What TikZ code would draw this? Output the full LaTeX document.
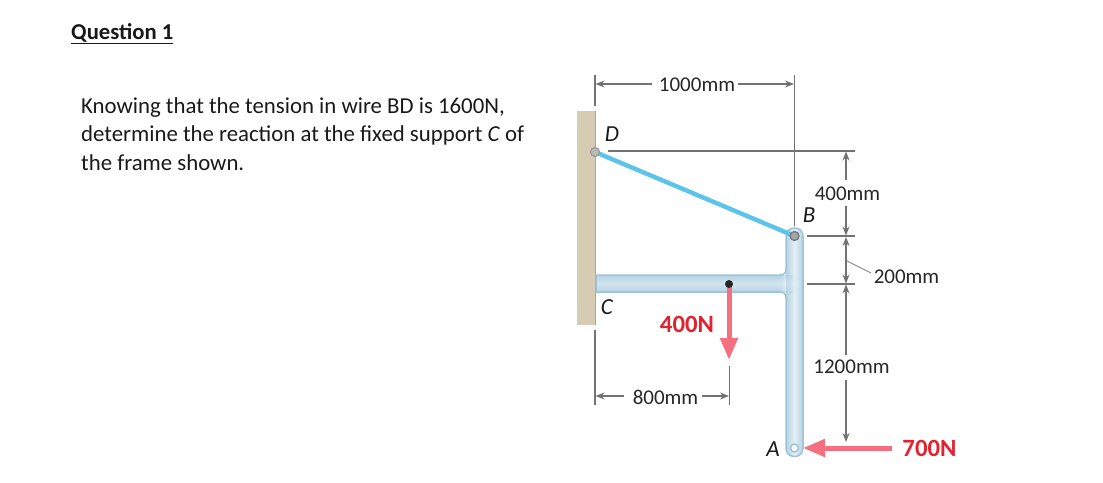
\documentclass[tikz,border=0pt]{standalone}
\usepackage{fontspec}
\setmainfont{Carlito}
\usetikzlibrary{arrows.meta,fadings}
\definecolor{dimgray}{HTML}{727272}
\definecolor{frameedge}{HTML}{9CC3D8}
\definecolor{framefill}{HTML}{D3E5EF}
\definecolor{framedark}{HTML}{B4D2E2}
\definecolor{wire}{HTML}{5CC3EA}
\definecolor{forcecol}{HTML}{F46F80}
\definecolor{forcetext}{HTML}{E3222F}
\definecolor{wallfill}{HTML}{D6CBB3}
\definecolor{walledge}{HTML}{B3A582}
\tikzfading[name=junctionfade,left color=transparent!0,right color=transparent!100]
\tikzset{
  dimline/.style={draw=dimgray,line width=1.2pt},
  dimarrow/.style={dimline,-{Stealth[length=9pt,width=7pt]}},
  dimtext/.style={font=\fontsize{21}{21}\selectfont,text=black!85,inner sep=1pt},
  para/.style={font=\fontsize{22.8}{22.8}\selectfont,text=black!90,anchor=base west,inner sep=0pt},
  pointlabel/.style={font=\fontsize{23}{23}\selectfont\itshape,text=black!90,inner sep=0pt},
  forcelabel/.style={font=\fontsize{24.8}{24.8}\selectfont\bfseries,text=forcetext,inner sep=0pt},
  forcearrow/.style={draw=forcecol,line width=5pt,-{Triangle[length=22pt,width=17pt]}},
  pin/.style={circle,draw=gray!90!black,fill=gray!70,line width=1.2pt,minimum size=9pt,inner sep=0pt}
}
\def\framepath{(596,275) -- (780,275) .. controls (784,275) and (786,273) .. (786,269)
  -- (786,236.5) .. controls (786,231) and (789.5,228) .. (794.5,228)
  .. controls (799.5,228) and (803,231) .. (803,236.5)
  -- (803,448) .. controls (803,453) and (799.5,456.5) .. (794.5,456.5)
  .. controls (789.5,456.5) and (786,453) .. (786,448)
  -- (786,298) .. controls (786,294) and (784,292) .. (780,292) -- (596,292) -- cycle}
\begin{document}
\begin{tikzpicture}[x=1pt,y=-1pt]
\useasboundingbox (0,0) rectangle (1103,482);
% text
\node[para,font=\fontsize{22.7}{22.7}\selectfont\bfseries] (title) at (71,39) {\underline{Question 1}};
\node[para] (l1) at (81,113) {Knowing that the tension in wire BD is 1600N,};
\node[para] (l2) at (81,141) {determine the reaction at the fixed support \textit{C} of};
\node[para] (l3) at (81,170) {the frame shown.};
% wall
\fill[wallfill] (577,111) rectangle (595,325);
\draw[walledge,line width=1.6pt] (595.3,111) -- (595.3,325);
% coordinates
\coordinate (D) at (595,152);
\coordinate (B) at (794.5,236);
\coordinate (A) at (794.5,448);
\coordinate (G) at (729,284);
% frame
\begin{scope}
\clip \framepath;
\shade[left color=framedark,right color=framedark,middle color=framefill!60!white] (786,225) rectangle (803,460);
\shade[top color=framedark,bottom color=framedark,middle color=framefill] (590,275) rectangle (780,292);
\shade[path fading=junctionfade,fading transform={yshift=0pt},top color=framedark,bottom color=framedark,middle color=framefill] (780,275) rectangle (796,292);
\end{scope}
\draw[frameedge,line width=1.5pt] \framepath;
% wire
\draw[wire,line width=4.4pt] (D) -- (B);
% pins
\node[pin,fill=gray!55,draw=gray!80] (pinD) at (D) {};
\node[pin] (pinB) at (B) {};
\node[circle,draw=frameedge,fill=white,line width=1.5pt,minimum size=8pt,inner sep=0pt] (pinA) at (A) {};
% forces
\coordinate (tip400) at (729,360);
\coordinate (tail700) at (892,448);
\coordinate (tip700) at (803,448);
\draw[forcearrow] (G) -- (tip400);
\node[circle,fill=black!85,minimum size=8pt,inner sep=0pt] (dot) at (G) {};
\node[forcelabel] (f400) at (687,324) {400N};
% dimension 1000
\coordinate (e1a) at (595,75); \coordinate (e1b) at (595,106);
\coordinate (e2a) at (794.5,75); \coordinate (e2b) at (794.5,226);
\draw[dimline] (e1a) -- (e1b);
\draw[dimline] (e2a) -- (e2b);
\node[dimtext] (d1000) at (697,85) {1000mm};
\coordinate (a1) at (595.5,84); \coordinate (a2) at (794,84);
\coordinate (s1) at (652,84); \coordinate (s2) at (738,84);
\draw[dimarrow] (s1) -- (a1);
\draw[dimarrow] (s2) -- (a2);
% horizontal ext lines
\coordinate (h1a) at (608,151); \coordinate (h1b) at (855,151);
\coordinate (h2a) at (807,236); \coordinate (h2b) at (855,236);
\coordinate (h3a) at (807,284); \coordinate (h3b) at (855,284);
\draw[dimline] (h1a) -- (h1b);
\draw[dimline] (h2a) -- (h2b);
\draw[dimline] (h3a) -- (h3b);
% vertical dims
\node[dimtext] (d400) at (847.5,194) {400mm};
\coordinate (v1) at (846,151.5); \coordinate (v2) at (846,235.5);
\coordinate (v3) at (846,237); \coordinate (v4) at (846,283.5);
\coordinate (v5) at (846,284.5); \coordinate (v6) at (846,442);
\coordinate (s4a) at (846,180); \coordinate (s4b) at (846,206);
\coordinate (mid) at (846,260);
\draw[dimarrow] (s4a) -- (v1);
\draw[dimarrow] (s4b) -- (v2);
\draw[dimarrow] (mid) -- (v3);
\draw[dimarrow] (mid) -- (v4);
\node[dimtext] (d200) at (906.5,277) {200mm};
\coordinate (lead) at (847,261);
\draw[dimline,draw=dimgray!80,line width=1pt] (lead) -- (871,273);
\node[dimtext] (d1200) at (851.5,367) {1200mm};
\coordinate (s12a) at (846,355); \coordinate (s12b) at (846,380);
\draw[dimarrow] (s12a) -- (v5);
\draw[dimarrow] (s12b) -- (v6);
% dimension 800
\coordinate (e3a) at (595,330); \coordinate (e3b) at (595,405);
\coordinate (e4a) at (729.5,366); \coordinate (e4b) at (729.5,405);
\draw[dimline] (e3a) -- (e3b);
\draw[dimline] (e4a) -- (e4b);
\node[dimtext] (d800) at (665.5,397) {800mm};
\coordinate (a3) at (595.5,396); \coordinate (a4) at (729,396);
\coordinate (s3) at (624,396); \coordinate (s5) at (702,396);
\draw[dimarrow] (s3) -- (a3);
\draw[dimarrow] (s5) -- (a4);
% 700N arrow
\draw[forcearrow] (tail700) -- (tip700);
\node[forcelabel] (f700) at (929.5,448) {700N};
% point labels
\node[pointlabel] (lD) at (612,134) {D};
\node[pointlabel] (lB) at (809,215) {B};
\node[pointlabel] (lC) at (607,307) {C};
\node[pointlabel] (lA) at (773,449) {A};
\end{tikzpicture}
\end{document}
